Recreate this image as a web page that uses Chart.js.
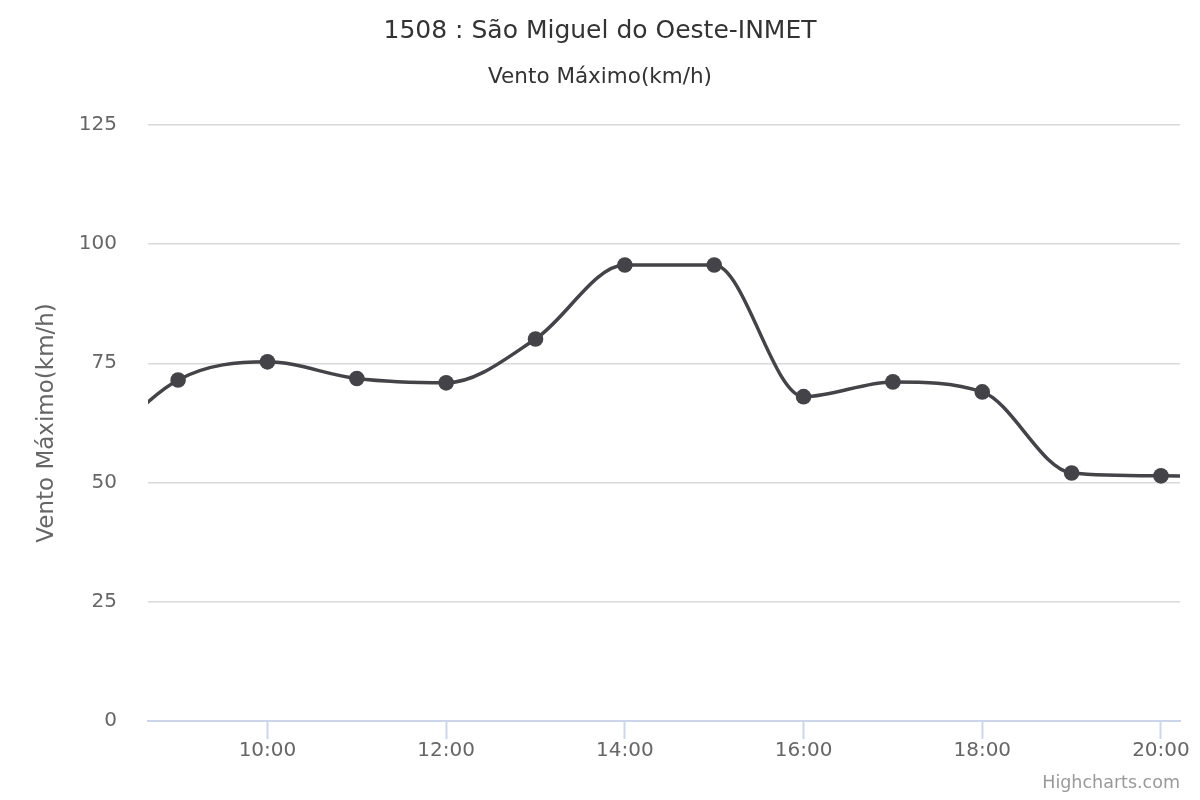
<!DOCTYPE html>
<html>
<head>
<meta charset="utf-8">
<script src="https://cdn.jsdelivr.net/npm/chart.js@4"></script>
<style>
  html, body { margin: 0; padding: 0; background: #ffffff; }
  #wrap { width: 1200px; height: 800px; }
</style>
</head>
<body>
<div id="wrap"><canvas id="ventoChart"></canvas></div>
<script>
// Hourly readings (hour of day) and maximum wind (km/h)
const hours = [8, 9, 10, 11, 12, 13, 14, 15, 16, 17, 18, 19, 20, 21];
const ventoMax = [55, 71.5, 75.3, 71.8, 70.9, 80.1, 95.6, 95.6, 68.0, 71.1, 69.0, 52.0, 51.4, 51.2];
const hourTicks = [10, 12, 14, 16, 18, 20];
const yTicks = [0, 25, 50, 75, 100, 125];

const titleText = '1508 : São Miguel do Oeste-INMET';
const subtitleText = 'Vento Máximo(km/h)';
const axisTitle = 'Vento Máximo(km/h)';
const creditText = 'Highcharts.com';

const FONT = '"DejaVu Sans", Verdana, sans-serif';

// little plugin for the credits line in the corner
const creditsPlugin = {
    id: 'credits',
    afterDraw(chart) {
        const c = chart.ctx;
        c.save();
        c.font = '17.5px ' + FONT;
        c.fillStyle = '#999999';
        c.textAlign = 'right';
        c.textBaseline = 'middle';
        c.fillText(creditText, chart.chartArea.right, 783);
        c.restore();
    }
};

function initChart() {
    const ctx = document.getElementById('ventoChart').getContext('2d');
    Chart.defaults.font.family = FONT;

    new Chart(ctx, {
        type: 'line',
        data: {
            datasets: [{
                label: subtitleText,
                data: hours.map((h, i) => ({ x: h, y: ventoMax[i] })),
                borderColor: '#434348',
                backgroundColor: '#434348',
                borderWidth: 3.5,
                pointRadius: 7.8,
                pointBorderWidth: 0,
                pointBackgroundColor: '#434348',
                cubicInterpolationMode: 'monotone',
                fill: false
            }]
        },
        options: {
            responsive: false,
            animation: false,
            // symmetric side padding keeps the titles centred on the page
            layout: { padding: { left: 20, right: 20, top: 0, bottom: 0 } },
            plugins: {
                legend: { display: false },
                tooltip: { enabled: false },
                title: {
                    display: true,
                    text: titleText,
                    color: '#333333',
                    font: { size: 25, weight: 'normal' },
                    padding: { top: 16, bottom: 0 }
                },
                subtitle: {
                    display: true,
                    text: subtitleText,
                    color: '#333333',
                    font: { size: 21.5, weight: 'normal' },
                    padding: { top: 19, bottom: 34 }
                }
            },
            scales: {
                x: {
                    type: 'linear',
                    min: 8.663,
                    max: 20.213,
                    afterBuildTicks: (scale) => {
                        scale.ticks = hourTicks.map(v => ({ value: v }));
                    },
                    afterFit: (scale) => { scale.height = 79; },
                    grid: {
                        drawOnChartArea: false,
                        drawTicks: true,
                        tickLength: 18,
                        tickWidth: 2,
                        tickColor: '#ccd6eb'
                    },
                    border: { display: true, color: '#ccd6eb', width: 2 },
                    ticks: {
                        color: '#666666',
                        font: { size: 20 },
                        padding: 0,
                        maxRotation: 0,
                        callback: (v) => v + ':00'
                    }
                },
                y: {
                    min: 0,
                    max: 125,
                    afterBuildTicks: (scale) => {
                        scale.ticks = yTicks.map(v => ({ value: v }));
                    },
                    afterFit: (scale) => { scale.width = 128; },
                    grid: {
                        color: '#d9d9d9',
                        lineWidth: 1.5,
                        drawTicks: false
                    },
                    border: { display: false },
                    ticks: {
                        color: '#666666',
                        font: { size: 20 },
                        padding: 31
                    },
                    title: {
                        display: true,
                        text: axisTitle,
                        color: '#666666',
                        font: { size: 23 },
                        padding: { top: 13, bottom: 0 }
                    }
                }
            }
        },
        plugins: [creditsPlugin]
    });
}

document.getElementById('ventoChart').width = 1200;
document.getElementById('ventoChart').height = 800;
initChart();
</script>
</body>
</html>
